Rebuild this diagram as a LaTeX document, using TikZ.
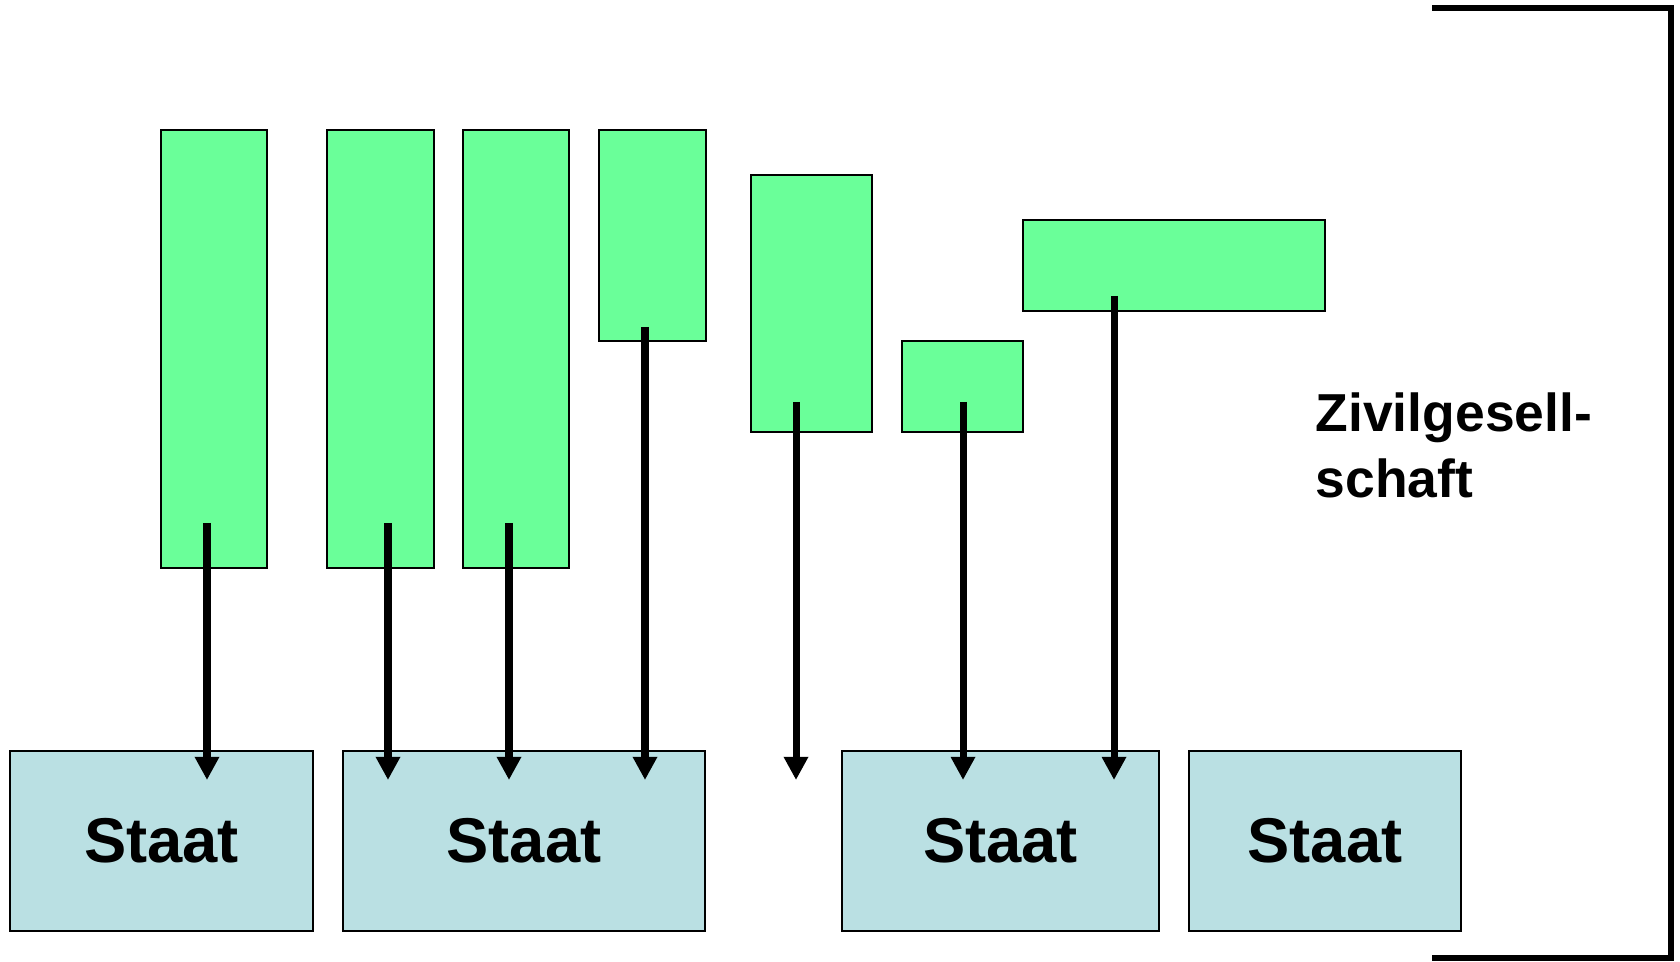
\documentclass[tikz,border=0pt]{standalone}
\usepackage{fontspec}
\setmainfont{Liberation Sans}
\usetikzlibrary{arrows.meta,positioning}
\definecolor{civilgreen}{RGB}{106,255,153}
\definecolor{staatblue}{RGB}{186,224,227}

\begin{document}
\begin{tikzpicture}[x=0.01cm,y=-0.01cm,
    civil/.style={draw=black,line width=0.5pt,fill=civilgreen,inner sep=0pt},
    staat/.style={draw=black,line width=0.5pt,fill=staatblue,inner sep=0pt,
        minimum height=1.8cm,font=\fontsize{18}{20}\selectfont\bfseries},
    push/.style={line width=2pt,-{Triangle[length=6.6pt,width=6.6pt]}},
    bracket/.style={line width=1.8pt}]
    \useasboundingbox (0,0) rectangle (1680,962);

    % Zivilgesellschaft: Organisationen
    \node[civil,minimum width=1.06cm,minimum height=4.38cm] (g1) at (214,349) {};
    \node[civil,minimum width=1.07cm,minimum height=4.38cm] (g2) at (380.5,349) {};
    \node[civil,minimum width=1.06cm,minimum height=4.38cm] (g3) at (516,349) {};
    \node[civil,minimum width=1.07cm,minimum height=2.11cm] (g4) at (652.5,235.5) {};
    \node[civil,minimum width=1.21cm,minimum height=2.57cm] (g5) at (811.5,303.5) {};
    \node[civil,minimum width=1.21cm,minimum height=0.91cm] (g6) at (962.5,386.5) {};
    \node[civil,minimum width=3.02cm,minimum height=0.91cm] (g7) at (1174,265.5) {};

    % Staaten
    \node[staat,minimum width=3.03cm] (s1) at (161.5,841) {Staat};
    \node[staat,minimum width=3.62cm] (s2) at (524,841) {Staat};
    \node[staat,minimum width=3.17cm] (s3) at (1000.5,841) {Staat};
    \node[staat,minimum width=2.72cm] (s4) at (1325,841) {Staat};

    % Einfluss
    \coordinate (tip) at (0,780);
    \coordinate (a1) at (207,523);
    \coordinate (a2) at (388,523);
    \coordinate (a3) at (509,523);
    \coordinate (a4) at (645,327);
    \coordinate (a5) at (796,402);
    \coordinate (a6) at (963,402);
    \coordinate (a7) at (1114,296);
    \draw[push] (a1) -- (a1 |- tip);
    \draw[push] (a2) -- (a2 |- tip);
    \draw[push] (a3) -- (a3 |- tip);
    \draw[push] (a4) -- (a4 |- tip);
    \draw[push] (a5) -- (a5 |- tip);
    \draw[push] (a6) -- (a6 |- tip);
    \draw[push] (a7) -- (a7 |- tip);

    % Klammer
    \draw[bracket] (1432,8) -- (1671,8) -- (1671,958) -- (1432,958);
    \node[anchor=base west,align=left,inner sep=0pt,
        font=\fontsize{15.2}{19}\selectfont\bfseries] (zg) at (1315,498)
        {Zivilgesell-\\schaft};
\end{tikzpicture}
\end{document}
